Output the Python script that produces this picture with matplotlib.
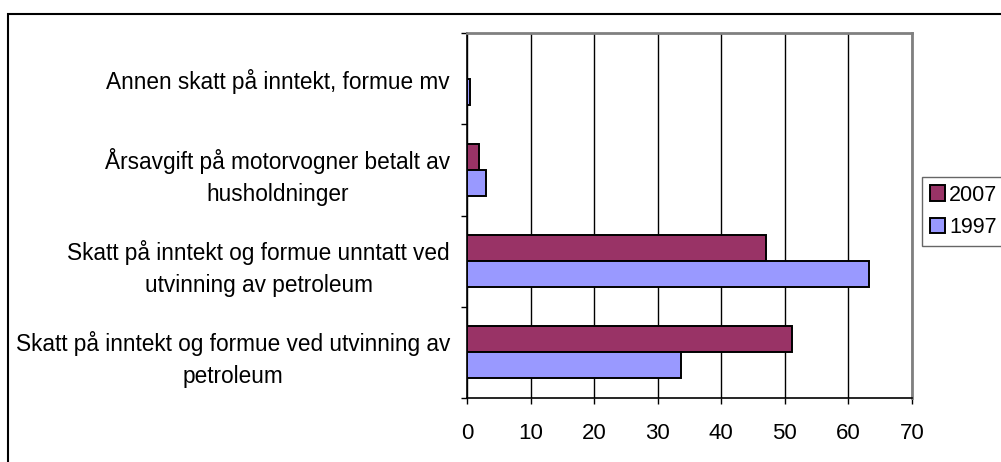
import numpy as np
import matplotlib.pyplot as plt
from matplotlib.patches import Rectangle

categories = [
    "Skatt på inntekt og formue ved utvinning av\npetroleum",
    "Skatt på inntekt og formue unntatt ved\nutvinning av petroleum",
    "Årsavgift på motorvogner betalt av\nhusholdninger",
    "Annen skatt på inntekt, formue mv",
]
values_2007 = [51.2, 47.1, 1.9, 0.0]
values_1997 = [33.6, 63.2, 3.0, 0.5]
x_ticks = [0, 10, 20, 30, 40, 50, 60, 70]

plt.rcParams['font.family'] = ['Liberation Sans', 'DejaVu Sans']

W, H = 1001, 462
fig = plt.figure(figsize=(W / 100, H / 100), dpi=100)
fig.patch.set_facecolor('white')

# outer chart frame (top/left visible, rest cut off)
fig.add_artist(Rectangle((8 / W, -0.1), 1.2, 1 - 14 / H + 0.1, transform=fig.transFigure,
                         fill=False, edgecolor='black', linewidth=1.5))

ax = fig.add_axes([467 / W, 64 / H, 445 / W, 365 / H])
ax.set_facecolor('white')

y = np.arange(len(categories))
h = 0.286
ax.barh(y + h / 2, values_2007, height=h, color='#993366', edgecolor='black',
        linewidth=1.4, label='2007', zorder=3)
ax.barh(y - h / 2, values_1997, height=h, color='#9999FF', edgecolor='black',
        linewidth=1.4, label='1997', zorder=3)

ax.set_xlim(0, 70)
ax.set_ylim(-0.5, len(categories) - 0.5)
ax.set_xticks(x_ticks)
ax.set_xticklabels([str(t) for t in x_ticks], fontsize=16)
ax.xaxis.grid(True, color='black', linewidth=1.0, zorder=0)

ax.set_yticks(y)
ax.set_yticklabels(categories, fontsize=16.3, multialignment='center', linespacing=1.52)
ax.set_yticks(np.arange(-0.5, len(categories)), minor=True)
ax.tick_params(axis='y', which='major', length=0, pad=17 * 0.72)
ax.tick_params(axis='y', which='minor', length=6 * 0.72, width=1, direction='out')
ax.tick_params(axis='x', length=6 * 0.72, width=1, direction='out', pad=14)

for s in ['top', 'right']:
    ax.spines[s].set_color('#808080')
    ax.spines[s].set_linewidth(2)
for s in ['left', 'bottom']:
    ax.spines[s].set_color('black')
    ax.spines[s].set_linewidth(1.2)

handles, labels = ax.get_legend_handles_labels()
leg = fig.legend(handles, labels, loc='upper left', bbox_to_anchor=(922 / W, 1 - 177 / H),
                 fontsize=15.5, frameon=True, fancybox=False, handlelength=0.7,
                 handleheight=0.7, handletextpad=0.2, borderpad=0.35, labelspacing=0.55,
                 borderaxespad=0)
leg.get_frame().set_edgecolor('#404040')
leg.get_frame().set_linewidth(1)

fig.savefig('out.png', dpi=100)
